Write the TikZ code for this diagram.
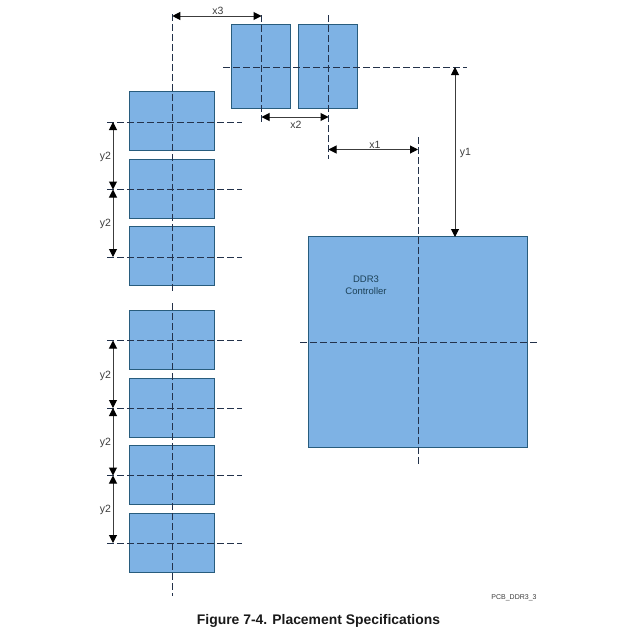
\documentclass[tikz,border=0pt]{standalone}
\usepackage{fontspec}
\setmainfont{Liberation Sans}
\usetikzlibrary{arrows.meta}
\definecolor{boxfill}{RGB}{126,178,228}
\definecolor{boxline}{RGB}{40,92,125}
\definecolor{dash}{RGB}{35,50,75}
\definecolor{dim}{RGB}{60,60,60}
\tikzset{
  chip/.style={draw=boxline,line width=1pt,fill=boxfill,minimum width=#1pt,inner sep=0pt,outer sep=0pt},
  lchip/.style={chip=84.5,minimum height=59pt},
  tchip/.style={chip=59,minimum height=84pt},
  cl/.style={draw=dash,line width=0.7pt,dash pattern=on 6.5pt off 3.5pt},
  dimline/.style={draw=dim,line width=1pt,{Triangle[length=8pt,width=8pt,color=black]}-{Triangle[length=8pt,width=8pt,color=black]}},
  lab/.style={text=dim,font=\fontsize{10.5}{12}\selectfont,inner sep=0pt},
}
\begin{document}
\begin{tikzpicture}[x=1pt,y=-1pt]
\useasboundingbox (0,0) rectangle (640,640);
% chips
\node[lchip] (L1) at (172.2,121.3) {};
\node[lchip] (L2) at (172.2,189.3) {};
\node[lchip] (L3) at (172.2,256.3) {};
\node[lchip] (L4) at (172.2,340.3) {};
\node[lchip] (L5) at (172.2,408.3) {};
\node[lchip] (L6) at (172.2,475.3) {};
\node[lchip] (L7) at (172.2,543.3) {};
\node[tchip] (T1) at (261.2,66.8) {};
\node[tchip] (T2) at (328.2,66.8) {};
\node[chip=219,minimum height=211pt] (C) at (418.2,342.3) {};
% centre-line end points
\coordinate (v1a) at (172.3,14); \coordinate (v1b) at (172.3,293);
\coordinate (v2a) at (172.3,303); \coordinate (v2b) at (172.3,596);
\coordinate (vT1a) at (261.5,15); \coordinate (vT1b) at (261.5,125);
\coordinate (vT2a) at (328.5,15); \coordinate (vT2b) at (328.5,159);
\coordinate (vCa) at (418,137); \coordinate (vCb) at (418,465);
\coordinate (hTa) at (223,67); \coordinate (hTb) at (467,67);
\coordinate (hCa) at (300,342.5); \coordinate (hCb) at (537,342.5);
\foreach \n/\y in {1/122,2/189.5,3/257,4/340.5,5/408,6/475.5,7/543}{
  \coordinate (h\n a) at (107,\y);
  \coordinate (h\n b) at (242,\y);
  \coordinate (d\n) at (113,\y);
  \draw[cl] (h\n a) -- (h\n b);
}
\draw[cl] (v1a) -- (v1b);
\draw[cl] (v2a) -- (v2b);
\draw[cl] (vT1a) -- (vT1b);
\draw[cl] (vT2a) -- (vT2b);
\draw[cl] (vCa) -- (vCb);
\draw[cl] (hTa) -- (hTb);
\draw[cl] (hCa) -- (hCb);
% dimensions
\coordinate (x3a) at (172.3,16); \coordinate (x3b) at (261.5,16);
\coordinate (x2a) at (261.5,117); \coordinate (x2b) at (328.5,117);
\coordinate (x1a) at (328.5,149.5); \coordinate (x1b) at (418,149.5);
\coordinate (y1a) at (455,67); \coordinate (y1b) at (455,237);
\draw[dimline] (x3a) -- (x3b);
\draw[dimline] (x2a) -- (x2b);
\draw[dimline] (x1a) -- (x1b);
\draw[dimline] (y1a) -- (y1b);
\draw[dimline] (d1) -- (d2);
\draw[dimline] (d2) -- (d3);
\draw[dimline] (d4) -- (d5);
\draw[dimline] (d5) -- (d6);
\draw[dimline] (d6) -- (d7);
% labels
\node[lab] (lx3) at (218,11) {x3};
\node[lab] (lx2) at (296,124.5) {x2};
\node[lab] (lx1) at (375,144.5) {x1};
\node[lab] (ly1) at (465.5,153) {y1};
\node[lab] (ly2a) at (105.5,157) {y2};
\node[lab] (ly2b) at (105.5,224) {y2};
\node[lab] (ly2c) at (105.5,376) {y2};
\node[lab] (ly2d) at (105.5,443) {y2};
\node[lab] (ly2e) at (105.5,510) {y2};
\node[lab,text=boxline!70!black,align=center,font=\fontsize{9.5}{12}\selectfont] (ctl) at (366,285) {DDR3\\Controller};
\node[lab,font=\fontsize{7}{9}\selectfont] (ref) at (514,598) {PCB\_DDR3\_3};
\node[inner sep=0pt,font=\fontsize{13.9}{16}\selectfont\bfseries,text=black!90] (cap) at (318.5,620.5) {Figure 7-4. Placement Specifications};
\end{tikzpicture}
\end{document}
